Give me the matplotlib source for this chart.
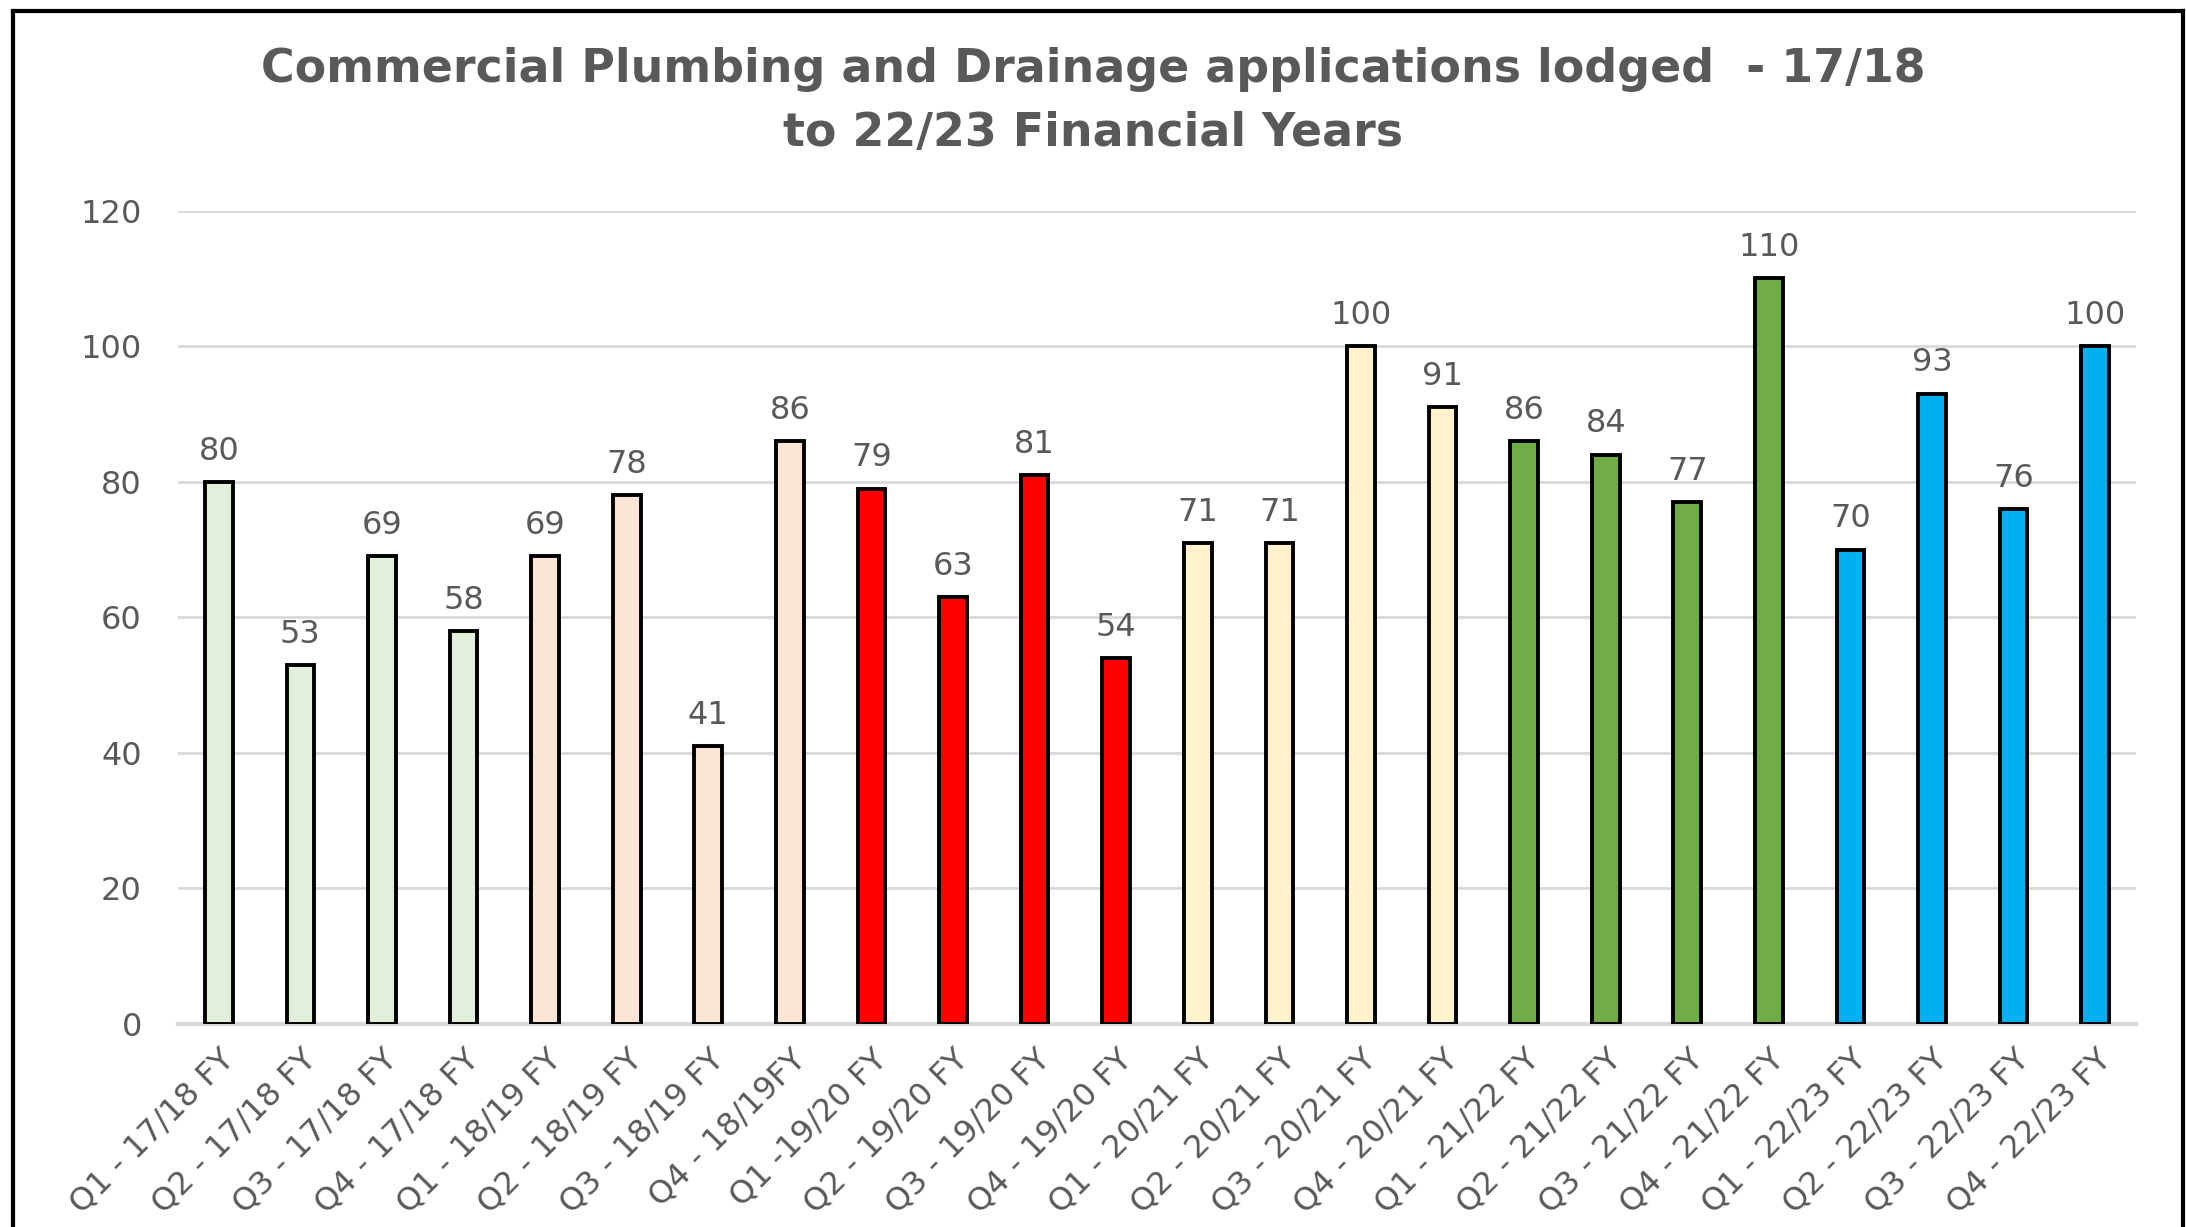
import matplotlib.pyplot as plt
from matplotlib.lines import Line2D

# -----------------------------------
# DATA
# -----------------------------------

quarters = [
    "Q1 - 17/18 FY", "Q2 - 17/18 FY", "Q3 - 17/18 FY", "Q4 - 17/18 FY",
    "Q1 - 18/19 FY", "Q2 - 18/19 FY", "Q3 - 18/19 FY", "Q4 - 18/19FY",
    "Q1 -19/20 FY", "Q2 - 19/20 FY", "Q3 - 19/20 FY", "Q4 - 19/20 FY",
    "Q1 - 20/21 FY", "Q2 - 20/21 FY", "Q3 - 20/21 FY", "Q4 - 20/21 FY",
    "Q1 - 21/22 FY", "Q2 - 21/22 FY", "Q3 - 21/22 FY", "Q4 - 21/22 FY",
    "Q1 - 22/23 FY", "Q2 - 22/23 FY", "Q3 - 22/23 FY", "Q4 - 22/23 FY",
]

applications = [80, 53, 69, 58, 69, 78, 41, 86, 79, 63, 81, 54,
                71, 71, 100, 91, 86, 84, 77, 110, 70, 93, 76, 100]

# one colour per financial year, four quarters each
year_colours = ["#E2EFDA", "#FCE4D6", "#FF0000", "#FFF2CC", "#70AD47", "#00B0F0"]

# -----------------------------------
# CHART
# -----------------------------------

plt.rcParams['font.family'] = ['DejaVu Sans']
text_grey = "#595959"

fig = plt.figure(figsize=(21.86, 12.27), dpi=100)
ax = fig.add_axes([178 / 2186, 1 - 1024 / 1227, 1958 / 2186, (1024 - 210.7) / 1227])

bar_colours = [year_colours[i // 4] for i in range(len(applications))]
x = range(len(applications))
bars = ax.bar(x, applications, width=0.34, color=bar_colours,
              edgecolor="black", linewidth=2.8, zorder=3)

for rect, val in zip(bars, applications):
    ax.annotate(str(val), (rect.get_x() + rect.get_width() / 2, val),
                xytext=(0, 11), textcoords="offset points",
                ha="center", va="bottom", fontsize=23, color=text_grey)

ax.set_xlim(-0.5, len(applications) - 0.5)
ax.set_ylim(0, 120)
ax.set_yticks(range(0, 121, 20))
ax.yaxis.grid(True, color="#D9D9D9", linewidth=2, zorder=0)
ax.set_axisbelow(True)

ax.set_xticks(list(x))
ax.set_xticklabels(quarters, rotation=45, ha="right", rotation_mode="anchor")
ax.tick_params(axis="both", length=0, labelsize=23, labelcolor=text_grey)
ax.tick_params(axis="y", pad=26)
ax.tick_params(axis="x", pad=14)

for side in ["top", "right", "left"]:
    ax.spines[side].set_visible(False)
ax.spines["bottom"].set_color("#D9D9D9")
ax.spines["bottom"].set_linewidth(3)

fig.text(0.5, 1 - 70 / 1227, "Commercial Plumbing and Drainage applications lodged  - 17/18",
         ha="center", va="center", fontsize=33, fontweight="bold", color=text_grey)
fig.text(0.5, 1 - 134 / 1227, "to 22/23 Financial Years",
         ha="center", va="center", fontsize=33, fontweight="bold", color=text_grey)

# black frame around the chart area (bottom edge is cut off in the original)
fx0, fx1, fy = 13 / 2186, 2183 / 2186, 1 - 11 / 1227
fig.add_artist(Line2D([fx0, fx1], [fy, fy], color="black", linewidth=3))
fig.add_artist(Line2D([fx0, fx0], [0, fy], color="black", linewidth=3))
fig.add_artist(Line2D([fx1, fx1], [0, fy], color="black", linewidth=3))

plt.savefig("out.png", dpi=100, facecolor="white")
plt.close()
